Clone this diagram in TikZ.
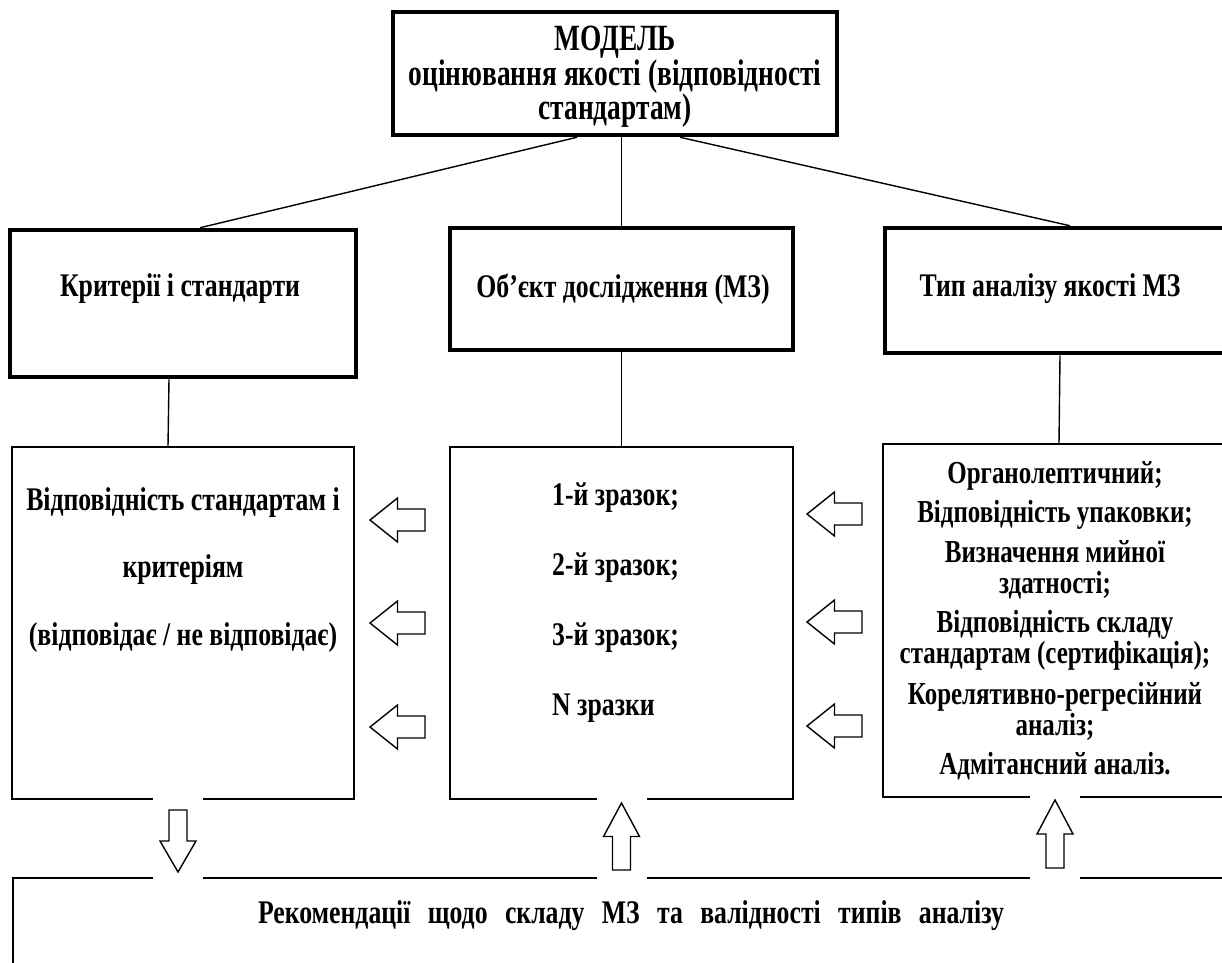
\documentclass[tikz,border=0pt]{standalone}
\usepackage{fontspec}
\setmainfont{Liberation Serif}[FakeStretch=0.78]
\newfontfamily\titlefont{Liberation Serif}[FakeStretch=0.74]

\tikzset{
  frame/.style={draw, line width=4.5pt, inner sep=0pt},
  panel/.style={draw, line width=1.6pt, inner sep=0pt},
  link/.style={line width=1.4pt},
  blk/.style={line width=1.4pt, fill=white, line join=miter},
  lbl/.style={font=\bfseries\fontsize{33}{33}\selectfont, inner sep=0pt}
}

% block arrow: tip, angle of the tail side, length, width
\newcommand{\blkarrow}[4]{%
  \draw[blk, shift={#1}, rotate=#2, xscale=#3, yscale=#4]
    (0,0) -- (.5,.5) -- (.5,.25) -- (1,.25) -- (1,-.25) -- (.5,-.25) -- (.5,-.5) -- cycle;}

\begin{document}
\begin{tikzpicture}[x=1pt,y=-1pt]
  \useasboundingbox[fill=white] (0,0) rectangle (1222,962);

  % top box
  \node[frame, minimum width=444, minimum height=123] (model) at (615,73.5) {};
  \node[lbl, align=center, font=\titlefont\bfseries\fontsize{37}{30}\selectfont] (modeltxt) at (615,77)
    {МОДЕЛЬ\\оцінювання якості (відповідності\\стандартам)};

  % second row
  \node[frame, minimum width=346, minimum height=147] (crit) at (183,303.5) {};
  \node[frame, minimum width=343, minimum height=122] (obj) at (621.5,289) {};
  \node[frame, minimum width=350, minimum height=125] (kind) at (1060,290.5) {};
  \node[lbl] (crittxt) at (180,289) {Критерії і стандарти};
  \node[lbl] (objtxt) at (623,289) {Об’єкт дослідження (МЗ)};
  \node[lbl] (kindtxt) at (1050,289) {Тип аналізу якості МЗ};

  % third row
  \node[panel, minimum width=342, minimum height=352] (conf) at (183,623) {};
  \node[panel, minimum width=343, minimum height=352] (samp) at (621.5,623) {};
  \node[panel, minimum width=352, minimum height=353] (meth) at (1059,620.5) {};
  \node[lbl, align=center, font=\bfseries\fontsize{33}{67.5}\selectfont] (conftxt) at (183,570)
    {Відповідність стандартам і\\критеріям\\(відповідає / не відповідає)};
  \node[lbl, align=left, anchor=west, font=\bfseries\fontsize{33}{70}\selectfont] (samptxt) at (552,603)
    {1-й зразок;\\2-й зразок;\\3-й зразок;\\N зразки};
  \node[lbl, align=center, font=\bfseries\fontsize{32}{31}\selectfont] (methtxt) at (1055,621)
    {Органолептичний;\\[8pt]Відповідність упаковки;\\[9pt]Визначення мийної\\здатності;\\[8pt]%
     Відповідність складу\\стандартам (сертифікація);\\[10pt]Корелятивно-регресійний\\аналіз;\\[8pt]%
     Адмітансний аналіз.};

  % bottom box
  \node[panel, anchor=north west, minimum width=1240, minimum height=200] (rec) at (12,877) {};
  \node[lbl] (rectxt) at (631,916)
    {\makebox[746pt][s]{Рекомендації щодо складу МЗ та валідності типів аналізу}};

  % openings for the arrows
  \foreach \gx/\gy in {178/799, 621.5/799, 1055/797, 178/877, 621.5/877, 1055/877}
    \fill[white] (\gx-25,\gy-4) rectangle (\gx+25,\gy+4);

  % links
  \draw[link] ([xshift=-38]model.south) -- ([xshift=17]crit.north);
  \draw[link] (obj.north) -- (obj.north |- model.south);
  \draw[link] ([xshift=65]model.south) -- ([xshift=10]kind.north);
  \draw[link] ([xshift=-14]crit.south) -- ([xshift=-15]conf.north);
  \draw[link] (obj.south) -- (samp.north);
  \draw[link] (kind.south) -- (meth.north);

  % block arrows
  \foreach \ty in {520,623,727}
    \blkarrow{(370,\ty)}{0}{55}{44};
  \foreach \ty in {514,622,726}
    \blkarrow{(807,\ty)}{0}{55}{44};
  \blkarrow{(178,872)}{90}{62}{36};
  \blkarrow{(621.5,803)}{-90}{67}{36};
  \blkarrow{(1055,800)}{-90}{68}{36};
\end{tikzpicture}
\end{document}
